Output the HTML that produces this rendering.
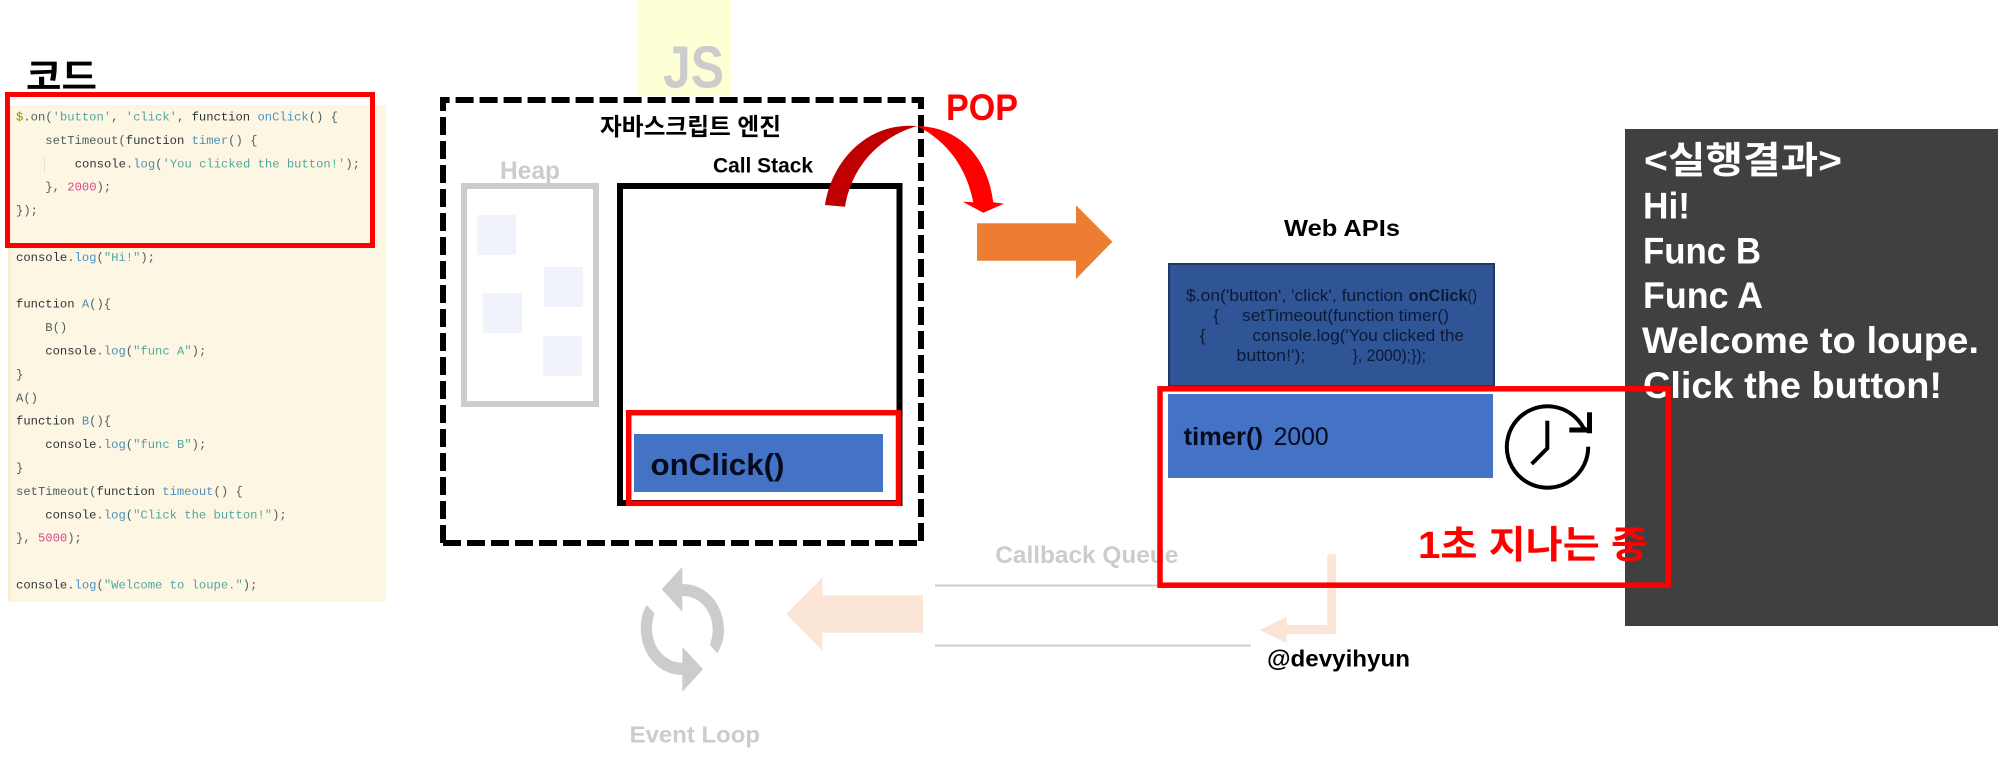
<!DOCTYPE html>
<html>
<head>
<meta charset="utf-8">
<style>
html,body{margin:0;padding:0;background:#fff;width:2004px;height:764px;overflow:hidden}
svg{display:block}
text{font-family:"Liberation Sans","Noto Sans CJK KR",sans-serif;white-space:pre}
.b{font-weight:700}
.mono text,text.mono{font-family:"Liberation Mono",monospace;font-size:12.2px;fill:#4d5f63}
.k{fill:#2b3538}.f{fill:#4b90c0}.s{fill:#4fa8a0}.n{fill:#d5468a}.o{fill:#859900}
.w text{fill:#fff;font-weight:700;font-size:37px}
.api text{font-size:17px;fill:#0b1a35}
</style>
</head>
<body>
<svg width="2004" height="764" viewBox="0 0 2004 764" xmlns="http://www.w3.org/2000/svg">
<rect width="2004" height="764" fill="#fff"/>

<!-- code panel -->
<text class="b" x="26" y="89" font-size="36" textLength="71" lengthAdjust="spacingAndGlyphs" fill="#000">코드</text>
<rect x="8" y="105" width="378" height="497" fill="#fdf6e3"/>
<rect x="8" y="105" width="3" height="497" fill="#fbf0d2"/>
<rect x="44" y="157" width="1" height="16" fill="#e8e2cf"/>
<g class="mono" transform="translate(0,-1)">
<text x="16" y="121.5"><tspan class="o">$</tspan>.on(<tspan class="s">'button'</tspan>, <tspan class="s">'click'</tspan>, <tspan class="k">function</tspan> <tspan class="f">onClick</tspan>() {</text>
<text x="45.3" y="144.9">setTimeout(<tspan class="k">function</tspan> <tspan class="f">timer</tspan>() {</text>
<text x="74.7" y="168.3"><tspan class="k">console</tspan>.<tspan class="f">log</tspan>(<tspan class="s">'You clicked the button!'</tspan>);</text>
<text x="45.3" y="191.7">}, <tspan class="n">2000</tspan>);</text>
<text x="16" y="215.1">});</text>
<text x="16" y="261.9"><tspan class="k">console</tspan>.<tspan class="f">log</tspan>(<tspan class="s">"Hi!"</tspan>);</text>
<text x="16" y="308.7"><tspan class="k">function</tspan> <tspan class="f">A</tspan>(){</text>
<text x="45.3" y="332.1">B()</text>
<text x="45.3" y="355.5"><tspan class="k">console</tspan>.<tspan class="f">log</tspan>(<tspan class="s">"func A"</tspan>);</text>
<text x="16" y="378.9">}</text>
<text x="16" y="402.3">A()</text>
<text x="16" y="425.7"><tspan class="k">function</tspan> <tspan class="f">B</tspan>(){</text>
<text x="45.3" y="449.1"><tspan class="k">console</tspan>.<tspan class="f">log</tspan>(<tspan class="s">"func B"</tspan>);</text>
<text x="16" y="472.5">}</text>
<text x="16" y="495.9">setTimeout(<tspan class="k">function</tspan> <tspan class="f">timeout</tspan>() {</text>
<text x="45.3" y="519.3"><tspan class="k">console</tspan>.<tspan class="f">log</tspan>(<tspan class="s">"Click the button!"</tspan>);</text>
<text x="16" y="542.7">}, <tspan class="n">5000</tspan>);</text>
<text x="16" y="589.5"><tspan class="k">console</tspan>.<tspan class="f">log</tspan>(<tspan class="s">"Welcome to loupe."</tspan>);</text>
</g>
<rect x="7.5" y="94.5" width="365" height="151" fill="none" stroke="#ff0000" stroke-width="5"/>

<!-- JS logo -->
<rect x="638" y="0" width="93" height="96" fill="#ffffd6"/>
<text class="b" x="663" y="87.5" font-size="59" textLength="61" lengthAdjust="spacingAndGlyphs" fill="#cccccc">JS</text>

<!-- engine dashed frame -->
<g stroke="#000" stroke-width="6" fill="none">
<line x1="440" y1="100" x2="924" y2="100" stroke-dasharray="18 6" stroke-dashoffset="8.4"/>
<line x1="443" y1="543" x2="918" y2="543" stroke-dasharray="18 6"/>
<line x1="443" y1="97" x2="443" y2="546" stroke-dasharray="18 6" stroke-dashoffset="4"/>
<line x1="921" y1="97" x2="921" y2="541" stroke-dasharray="18 6" stroke-dashoffset="6"/>
</g>
<text class="b" x="600" y="135" font-size="24" textLength="181" lengthAdjust="spacingAndGlyphs" fill="#000">자바스크립트 엔진</text>

<!-- Heap -->
<text class="b" x="500" y="179" font-size="25" textLength="60" lengthAdjust="spacingAndGlyphs" fill="#cccccc">Heap</text>
<rect x="464" y="186" width="132" height="218" fill="#fff" stroke="#cccccc" stroke-width="6"/>
<rect x="477" y="215" width="39" height="40" fill="#f0f3fb"/>
<rect x="544" y="267" width="39" height="40" fill="#f0f3fb"/>
<rect x="483" y="293" width="39" height="40" fill="#f0f3fb"/>
<rect x="543" y="336" width="39" height="40" fill="#f0f3fb"/>

<!-- Call stack -->
<text class="b" x="713" y="172.5" font-size="21.5" textLength="100" lengthAdjust="spacingAndGlyphs" fill="#000">Call Stack</text>
<rect x="620" y="186" width="279.5" height="317" fill="#fff" stroke="#000" stroke-width="6"/>
<rect x="634" y="434" width="249" height="58" fill="#4472c4"/>
<text class="b" x="650.5" y="475" font-size="31" textLength="134" lengthAdjust="spacingAndGlyphs" fill="#050a1c">onClick()</text>
<rect x="628.7" y="412.7" width="269.8" height="90.6" fill="none" stroke="#ff0000" stroke-width="5.5"/>

<!-- POP arc -->
<path d="M825,205 C832,160 868,122 917,126 C880,137 852,165 845,206.7 Z" fill="#c00000"/>
<path d="M917,126 C962,127 988,160 993.3,202.3 L1004,203.7 L983.3,212.7 L962.7,201.7 L973.3,202.3 C966,165 945,140 917,126 Z" fill="#ff0000"/>
<text class="b" x="946" y="120" font-size="37" textLength="72" lengthAdjust="spacingAndGlyphs" fill="#ff0000">POP</text>

<!-- orange arrow -->
<polygon points="977,223.3 1076,223.3 1076,205.3 1112.4,241.7 1076,279 1076,260.7 977,260.7" fill="#ed7d31"/>

<!-- Result panel -->
<rect x="1625" y="129" width="373" height="497" fill="#404040"/>
<g class="w">
<text x="1644" y="173" textLength="198" lengthAdjust="spacingAndGlyphs">&lt;실행결과&gt;</text>
<text x="1643" y="218.3" textLength="47" lengthAdjust="spacingAndGlyphs">Hi!</text>
<text x="1643" y="263.3" textLength="118" lengthAdjust="spacingAndGlyphs">Func B</text>
<text x="1643" y="308" textLength="120" lengthAdjust="spacingAndGlyphs">Func A</text>
<text x="1642" y="353" textLength="337" lengthAdjust="spacingAndGlyphs">Welcome to loupe.</text>
<text x="1643" y="398" textLength="299" lengthAdjust="spacingAndGlyphs">Click the button!</text>
</g>

<!-- Web APIs -->
<text class="b" x="1284" y="236" font-size="23" textLength="116" lengthAdjust="spacingAndGlyphs" fill="#000">Web APIs</text>
<rect x="1169" y="264" width="325" height="122" fill="#2f5597" stroke="#1f3864" stroke-width="2"/>
<g class="api">
<text x="1186" y="301" textLength="217" lengthAdjust="spacingAndGlyphs">$.on('button', 'click', function</text>
<text class="b" x="1408.6" y="301" textLength="59" lengthAdjust="spacingAndGlyphs">onClick</text>
<text x="1467.5" y="301" textLength="9.5" lengthAdjust="spacingAndGlyphs">()</text>
<text x="1213.4" y="321">{</text>
<text x="1242" y="321" textLength="207" lengthAdjust="spacingAndGlyphs">setTimeout(function timer()</text>
<text x="1199.7" y="341">{</text>
<text x="1252.5" y="341" textLength="211.5" lengthAdjust="spacingAndGlyphs">console.log('You clicked the</text>
<text x="1236.4" y="361" textLength="69" lengthAdjust="spacingAndGlyphs">button!');</text>
<text x="1352.6" y="361" textLength="73.4" lengthAdjust="spacingAndGlyphs">}, 2000);});</text>
</g>
<rect x="1168" y="394" width="325" height="84" fill="#4472c4"/>
<text class="b" x="1183.6" y="445" font-size="25" textLength="79.4" lengthAdjust="spacingAndGlyphs" fill="#050a1c">timer()</text>
<text x="1273.6" y="445" font-size="25" textLength="55" lengthAdjust="spacingAndGlyphs" fill="#050a1c">2000</text>

<!-- clock -->
<g fill="none" stroke="#000" stroke-width="4">
<path d="M1588.2,446.7 A40.7,40.7 0 1 1 1583.5,428 L1588.5,431.5"/>
<path d="M1589.5,412.3 V433.3" stroke-width="5"/>
<path d="M1569.3,430 H1592" stroke-width="5"/>
<path d="M1547.3,420.7 V448.3 L1531.7,464"/>
</g>

<!-- Callback queue -->
<text class="b" x="995.3" y="563" font-size="24" textLength="183" lengthAdjust="spacingAndGlyphs" fill="#cccccc">Callback Queue</text>
<line x1="935" y1="585.5" x2="1160" y2="585.5" stroke="#cccccc" stroke-width="2"/>
<line x1="935" y1="645.5" x2="1251" y2="645.5" stroke="#cccccc" stroke-width="2"/>
<polygon points="786.2,614 822.5,577.3 822.5,595.3 923,595.3 923,632.7 822.5,632.7 822.5,650.7" fill="#fbe5d6"/>
<polygon points="1327.2,554.3 1336.2,554.3 1336.2,634 1286.6,634 1286.6,643.3 1259.8,630 1286.6,616.7 1286.6,625 1327.2,625" fill="#fbe5d6"/>
<text class="b" x="1267" y="666.7" font-size="23" textLength="143" lengthAdjust="spacingAndGlyphs" fill="#000">@devyihyun</text>

<!-- loop icon -->
<path d="M682.3,566.7 L661.7,589.3 L682.3,611.7 L682.3,596 C700,596 712.7,611 712.7,630 C712.7,635 711.5,640 710,645 L717.3,653.3 C721,647 724,640 724,630 C724,606 708,584 682.3,584 Z" fill="#cccccc"/>
<path d="M682.3,691.7 L703,669.3 L682.3,646.7 L682.3,662.7 C665,662.7 652,647 652,628.3 C652,623 653,618 654.3,613.3 L646.7,605 C643,611 640.7,619 640.7,628.3 C640.7,652 657,675 682.3,675 Z" fill="#cccccc"/>
<text class="b" x="629.6" y="742.7" font-size="23" textLength="130.4" lengthAdjust="spacingAndGlyphs" fill="#cccccc">Event Loop</text>

<!-- red timer frame and label -->
<text class="b" x="1418" y="558" font-size="38" textLength="230" lengthAdjust="spacingAndGlyphs" fill="#ff0000">1초 지나는 중</text>
<rect x="1160" y="388.8" width="508.2" height="196.4" fill="none" stroke="#ff0000" stroke-width="5.5"/>
</svg>
</body>
</html>
